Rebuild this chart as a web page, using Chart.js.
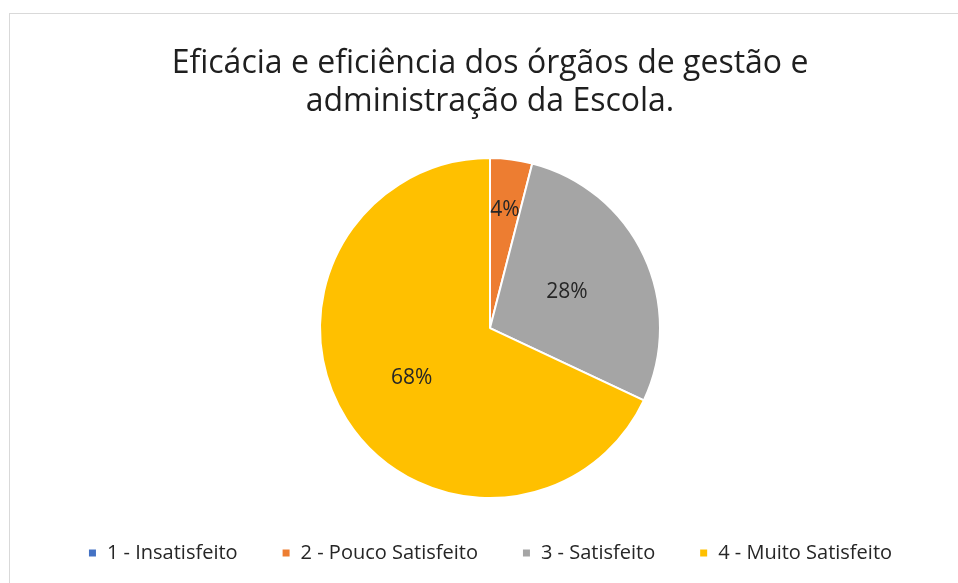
<!DOCTYPE html>
<html>
<head>
<meta charset="utf-8">
<script src="https://cdn.jsdelivr.net/npm/chart.js@4.4.1/dist/chart.umd.min.js"></script>
<style>
  html, body { margin: 0; padding: 0; background: #fff; overflow: hidden; width: 958px; height: 583px; }
  #frame { position: absolute; left: 9px; top: 13px; width: 962px; height: 600px; border: 1px solid #d9d9d9; box-sizing: border-box; background: #fff; }
  canvas { position: absolute; left: 0; top: 0; }
</style>
</head>
<body>
<div id="frame"><canvas id="c" width="960" height="598"></canvas></div>
<script>
const titleLines = ["Eficácia e eficiência dos órgãos de gestão e", "administração da Escola."];
const categories = ["1 - Insatisfeito", "2 - Pouco Satisfeito", "3 - Satisfeito", "4 - Muito Satisfeito"];
const percentages = [0, 4, 28, 68];
const sliceColors = ["#4472C4", "#ED7D31", "#A5A5A5", "#FFC000"];

const FONT = "'Open Sans', 'Noto Sans', sans-serif";

const labelPlugin = {
  id: 'sliceLabels',
  afterDatasetsDraw(chart, args, opts) {
    const ctx = chart.ctx;
    const meta = chart.getDatasetMeta(0);
    const data = chart.data.datasets[0].data;
    ctx.save();
    ctx.font = opts.font;
    ctx.fillStyle = opts.color;
    ctx.textAlign = 'center';
    ctx.textBaseline = 'middle';
    meta.data.forEach((arc, i) => {
      if (!data[i]) return;
      const p = arc.getProps(['x', 'y', 'startAngle', 'endAngle', 'outerRadius'], true);
      const mid = (p.startAngle + p.endAngle) / 2;
      const r = p.outerRadius * opts.radial[i];
      ctx.fillText(data[i] + '%', p.x + Math.cos(mid) * r, p.y + Math.sin(mid) * r);
    });
    ctx.restore();
  }
};

new Chart(document.getElementById('c'), {
  type: 'pie',
  data: {
    labels: categories,
    datasets: [{
      data: percentages,
      backgroundColor: sliceColors,
      borderColor: '#ffffff',
      borderWidth: 2,
      radius: 170
    }]
  },
  options: {
    responsive: false,
    animation: false,
    rotation: 0,
    layout: { padding: { top: 0, bottom: 39, left: 0, right: 0 } },
    plugins: {
      tooltip: { enabled: false },
      title: {
        display: true,
        text: titleLines,
        color: '#1f1f1f',
        font: { family: FONT, size: 32, weight: 'normal', lineHeight: 1.19 },
        padding: { top: 31, bottom: 36 }
      },
      legend: {
        position: 'bottom',
        labels: {
          color: '#262626',
          font: { family: FONT, size: 20 },
          boxWidth: 9,
          boxHeight: 9,
          padding: 44
        }
      },
      sliceLabels: {
        font: "21px 'Open Sans', 'Noto Sans', sans-serif",
        color: '#262626',
        radial: [0.6, 0.7, 0.5, 0.545]
      }
    }
  },
  plugins: [labelPlugin]
});
</script>
</body>
</html>
